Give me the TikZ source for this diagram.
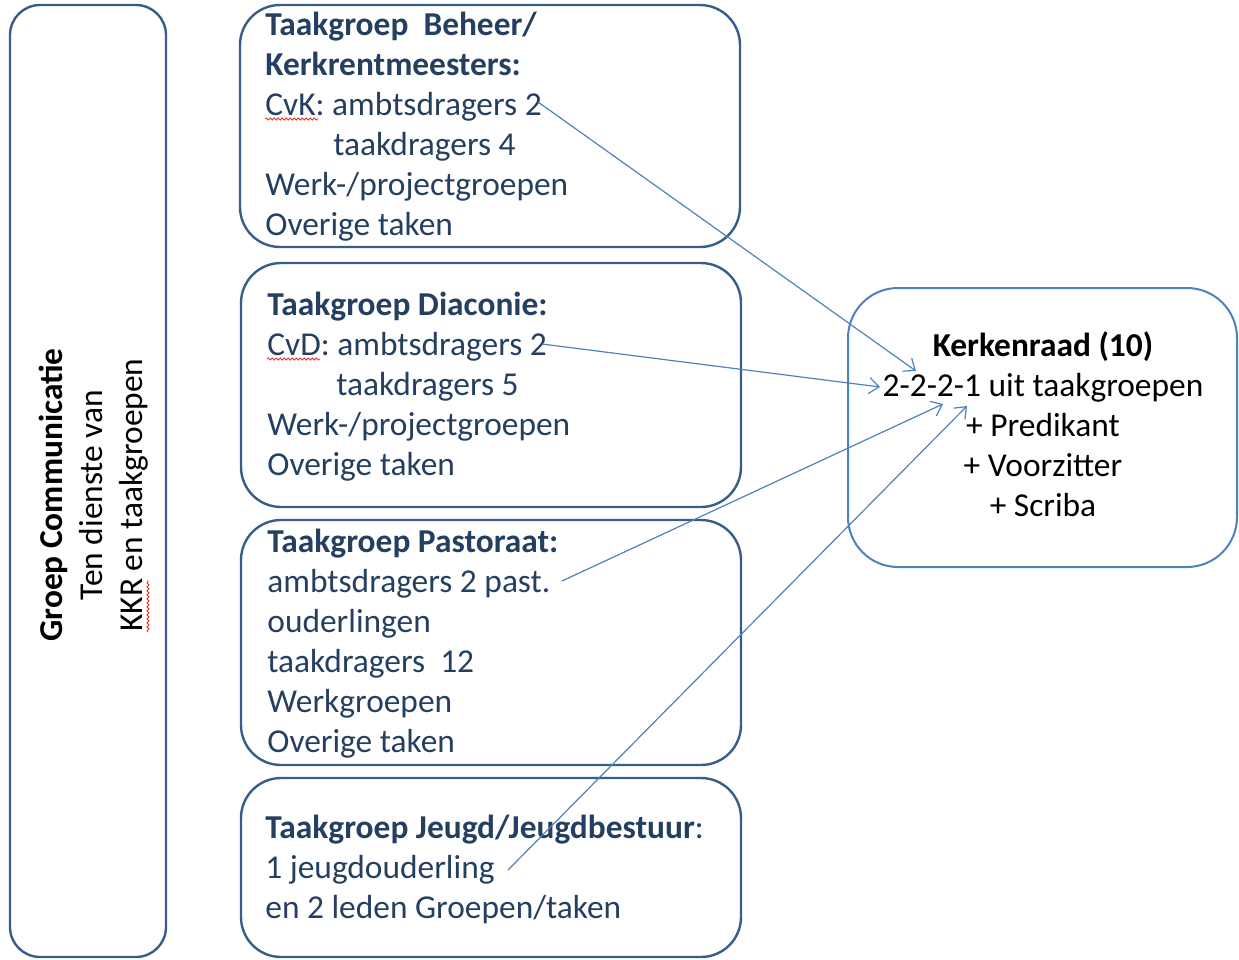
\documentclass[tikz,border=0pt]{standalone}
\usepackage{fontspec}
\setmainfont{Carlito}
\usetikzlibrary{arrows.meta,decorations.pathmorphing}

\definecolor{boxblue}{HTML}{385D8A}
\definecolor{txtblue}{HTML}{243F60}
\definecolor{krblue}{HTML}{4F81BD}
\definecolor{spellred}{HTML}{E0301E}

\tikzset{
  box/.style={draw=boxblue, line width=1.2pt, rounded corners=20pt, inner sep=0pt, outer sep=0pt},
  txtline/.style={anchor=base west, text=txtblue, inner sep=0pt},
  krline/.style={anchor=base, text=black, inner sep=0pt},
  link/.style={draw=krblue, line width=0.6pt, -{Straight Barb[length=5pt,width=8pt]}},
  spell/.style={draw=spellred, line width=0.4pt, decorate, decoration={snake, amplitude=0.5pt, segment length=2pt}}
}

\begin{document}
\begin{tikzpicture}[x=0.5pt,y=-0.5pt, font=\fontsize{16.7}{20}\selectfont]
\useasboundingbox (0,0) rectangle (1239,960);

% boxes
\node[box, rounded corners=15pt, minimum width=78pt, minimum height=476pt] (comm) at (88,481) {};
\node[box, minimum width=250pt, minimum height=121pt] (beheer) at (490,126) {};
\node[box, minimum width=250pt, minimum height=122pt] (diaconie) at (491,385) {};
\node[box, minimum width=250pt, minimum height=122.5pt] (pastoraat) at (491,642.5) {};
\node[box, minimum width=250pt, minimum height=89.5pt] (jeugd) at (491,867.5) {};
\node[box, draw=krblue, line width=1pt, rounded corners=25pt, minimum width=194.5pt, minimum height=139.5pt] (kerkenraad) at (1042.5,427.5) {};

% left box text
\node[rotate=90, align=center, inner sep=0pt] (commtext) at (94,495)
  {\textbf{Groep Communicatie}\\Ten dienste van\\KKR en taakgroepen};

% taakgroep texts
\foreach \y/\t [count=\i] in {35/{\textbf{Taakgroep\ \ Beheer/}}, 75/{\textbf{Kerkrentmeesters:}},
    115/{CvK: ambtsdragers 2}, 155/{\hspace*{34pt}taakdragers 4}, 195/{Werk-/projectgroepen}, 235/{Overige taken}}
  \node[txtline] (beheer-\i) at (265,\y) {\t};
\foreach \y/\t [count=\i] in {315/{\textbf{Taakgroep Diaconie:}}, 355/{CvD: ambtsdragers 2},
    395/{\hspace*{34.5pt}taakdragers 5}, 435/{Werk-/projectgroepen}, 475/{Overige taken}}
  \node[txtline] (diaconie-\i) at (267,\y) {\t};
\foreach \y/\t [count=\i] in {552/{\textbf{Taakgroep Pastoraat:}}, 592/{ambtsdragers 2 past.}, 632/{ouderlingen},
    672/{taakdragers\ \ 12}, 712/{Werkgroepen}, 752/{Overige taken}}
  \node[txtline] (pastoraat-\i) at (267,\y) {\t};
\foreach \y/\t [count=\i] in {838/{\textbf{Taakgroep Jeugd/Jeugdbestuur}:}, 878/{1 jeugdouderling}, 918/{en 2 leden Groepen/taken}}
  \node[txtline] (jeugd-\i) at (265,\y) {\t};

% kerkenraad text
\foreach \y/\t [count=\i] in {356/{\textbf{Kerkenraad (10)}}, 396/{2-2-2-1 uit taakgroepen}, 436/{+ Predikant},
    476/{+ Voorzitter}, 516/{+ Scriba}}
  \node[krline] (kr-\i) at (1043,\y) {\t};

% spelling marks
\draw[spell] (265,119) -- (318,119);
\draw[spell] (267,359) -- (320,359);
\draw[spell] (148,632) -- (148,580);

% connectors
\coordinate (cvk) at (538,102);
\coordinate (cvd) at (542,344);
\coordinate (past) at (562,581);
\coordinate (jeugdo) at (508,870);
\coordinate (in-a) at (916,371);
\coordinate (in-b) at (880,387);
\coordinate (in-c) at (943,404);
\coordinate (in-d) at (967,406);
\draw[link] (cvk) -- (in-a);
\draw[link] (cvd) -- (in-b);
\draw[link] (past) -- (in-c);
\draw[link] (jeugdo) -- (in-d);
\end{tikzpicture}
\end{document}
